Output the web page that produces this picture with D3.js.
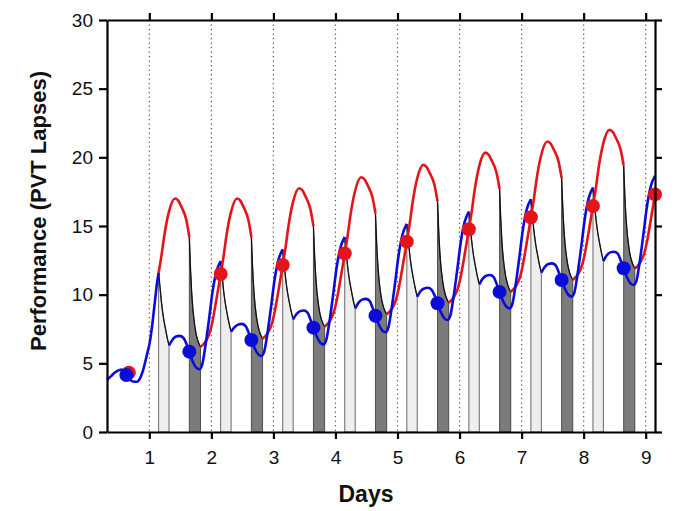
<!DOCTYPE html>
<html><head><meta charset="utf-8">
<script src="https://cdn.jsdelivr.net/npm/d3@7"></script>
<style>body{margin:0;background:#fff} svg{display:block}</style>
</head><body>
<svg id="chart" width="674" height="511"></svg>
<script>
// ---- data ----
const dayTicks = [1,2,3,4,5,6,7,8,9];
const yTicks = [0,5,10,15,20,25,30];

// blue model curve (awake segments)
const blueSegments = [
 [[0.318,3.8],[0.38,4.05],[0.45,4.35],[0.52,4.52],[0.56,4.55],[0.60,4.4],[0.63,4.15],[0.68,3.85],[0.74,3.68],[0.80,3.66],[0.85,3.9],[0.90,4.5],[0.96,5.6],[1.01,6.6],[1.05,7.9],[1.09,9.5],[1.12,10.7],[1.15,11.6]],
 [[1.318,6.3],[1.37,6.7],[1.43,6.95],[1.49,7.0],[1.55,6.85],[1.60,6.4],[1.645,5.85],[1.70,5.12],[1.76,4.67],[1.806,4.57],[1.85,4.87],[1.90,6.15],[1.96,8.12],[2.02,10.24],[2.08,11.66],[2.15,12.45]],
 [[2.318,7.3],[2.37,7.62],[2.43,7.82],[2.49,7.87],[2.55,7.72],[2.60,7.25],[2.645,6.7],[2.70,6.08],[2.76,5.63],[2.806,5.53],[2.85,5.83],[2.90,7.08],[2.96,9.03],[3.02,11.12],[3.08,12.52],[3.15,13.3]],
 [[3.318,8.2],[3.37,8.57],[3.43,8.8],[3.49,8.85],[3.55,8.7],[3.60,8.15],[3.645,7.6],[3.70,6.93],[3.76,6.48],[3.806,6.38],[3.85,6.68],[3.90,7.94],[3.96,9.9],[4.02,12.01],[4.08,13.42],[4.15,14.2]],
 [[4.318,9.0],[4.37,9.4],[4.43,9.64],[4.49,9.69],[4.55,9.54],[4.60,9.02],[4.645,8.47],[4.70,7.81],[4.76,7.36],[4.806,7.26],[4.85,7.56],[4.90,8.84],[4.96,10.81],[5.02,12.94],[5.08,14.36],[5.15,15.15]],
 [[5.318,9.85],[5.37,10.25],[5.43,10.45],[5.49,10.5],[5.55,10.35],[5.60,9.92],[5.645,9.37],[5.70,8.71],[5.76,8.26],[5.806,8.16],[5.85,8.46],[5.90,9.74],[5.96,11.71],[6.02,13.84],[6.08,15.26],[6.15,16.05]],
 [[6.318,10.75],[6.37,11.15],[6.43,11.38],[6.49,11.43],[6.55,11.28],[6.60,10.75],[6.645,10.2],[6.70,9.55],[6.76,9.1],[6.806,9.0],[6.85,9.3],[6.90,10.59],[6.96,12.58],[7.02,14.72],[7.08,16.16],[7.15,16.95]],
 [[7.318,11.6],[7.37,12.0],[7.43,12.23],[7.49,12.28],[7.55,12.13],[7.60,11.62],[7.645,11.07],[7.70,10.41],[7.76,9.96],[7.806,9.86],[7.85,10.16],[7.90,11.45],[7.96,13.43],[8.02,15.58],[8.08,17.01],[8.15,17.8]],
 [[8.318,12.45],[8.37,12.85],[8.43,13.08],[8.49,13.13],[8.55,12.98],[8.60,12.47],[8.645,11.92],[8.70,11.25],[8.76,10.8],[8.806,10.7],[8.85,11.0],[8.90,12.29],[8.96,14.28],[9.02,16.42],[9.08,17.86],[9.15,18.65]]
];

// red model curve (awake segments)
const redSegments = [
 [[1.15,11.6],[1.194,12.79],[1.247,14.46],[1.316,16.03],[1.415,17.0],[1.47,16.83],[1.516,16.41],[1.597,15.43],[1.645,14.2]],
 [[1.825,6.2],[1.875,6.41],[1.925,6.73],[1.975,7.26],[2.025,8.21],[2.075,9.49],[2.115,10.55],[2.15,11.5],[2.194,12.71],[2.247,14.42],[2.316,16.01],[2.415,17.0],[2.47,16.83],[2.516,16.41],[2.597,15.43],[2.645,14.2]],
 [[2.825,6.8],[2.875,7.01],[2.925,7.34],[2.975,7.87],[3.025,8.84],[3.075,10.12],[3.115,11.2],[3.15,12.16],[3.194,13.39],[3.247,15.12],[3.316,16.74],[3.415,17.75],[3.47,17.59],[3.516,17.17],[3.597,16.21],[3.645,15.0]],
 [[3.825,7.67],[3.875,7.88],[3.925,8.2],[3.975,8.74],[4.025,9.7],[4.075,10.97],[4.115,12.04],[4.15,13.0],[4.194,14.22],[4.247,15.94],[4.316,17.55],[4.415,18.55],[4.47,18.39],[4.516,17.99],[4.597,17.07],[4.645,15.9]],
 [[4.825,8.57],[4.875,8.78],[4.925,9.1],[4.975,9.63],[5.025,10.58],[5.075,11.85],[5.115,12.91],[5.15,13.86],[5.194,15.09],[5.247,16.82],[5.316,18.44],[5.415,19.45],[5.47,19.29],[5.516,18.89],[5.597,17.97],[5.645,16.8]],
 [[5.825,9.42],[5.875,9.63],[5.925,9.95],[5.975,10.49],[6.025,11.45],[6.075,12.73],[6.115,13.8],[6.15,14.76],[6.194,15.99],[6.247,17.72],[6.316,19.34],[6.415,20.34],[6.47,20.18],[6.516,19.79],[6.597,18.86],[6.645,17.7]],
 [[6.825,10.2],[6.875,10.42],[6.925,10.74],[6.975,11.29],[7.025,12.27],[7.075,13.57],[7.115,14.66],[7.15,15.64],[7.194,16.85],[7.247,18.56],[7.316,20.17],[7.415,21.15],[7.47,20.99],[7.516,20.59],[7.597,19.67],[7.645,18.5]],
 [[7.825,11.07],[7.875,11.29],[7.925,11.61],[7.975,12.15],[8.025,13.12],[8.075,14.41],[8.115,15.49],[8.15,16.46],[8.194,17.68],[8.247,19.4],[8.316,21.0],[8.415,22.0],[8.47,21.84],[8.516,21.45],[8.597,20.54],[8.645,19.4]],
 [[8.825,11.9],[8.875,12.12],[8.925,12.44],[8.975,12.98],[9.025,13.95],[9.075,15.25],[9.115,16.33],[9.15,17.3]]
];

// short (light grey) sleep periods: black decay line
const lightSleeps = [
 [[1.15,11.6],[1.175,10.43],[1.195,9.48],[1.225,8.42],[1.26,7.52],[1.29,6.83],[1.318,6.3]],
 [[2.15,12.45],[2.175,11.32],[2.195,10.39],[2.225,9.36],[2.26,8.48],[2.29,7.82],[2.318,7.3]],
 [[3.15,13.3],[3.175,12.18],[3.195,11.26],[3.225,10.24],[3.26,9.37],[3.29,8.71],[3.318,8.2]],
 [[4.15,14.2],[4.175,13.06],[4.195,12.12],[4.225,11.08],[4.26,10.2],[4.29,9.52],[4.318,9.0]],
 [[5.15,15.15],[5.175,13.98],[5.195,13.03],[5.225,11.97],[5.26,11.07],[5.29,10.38],[5.318,9.85]],
 [[6.15,16.05],[6.175,14.88],[6.195,13.93],[6.225,12.87],[6.26,11.97],[6.29,11.28],[6.318,10.75]],
 [[7.15,16.95],[7.175,15.77],[7.195,14.81],[7.225,13.74],[7.26,12.83],[7.29,12.14],[7.318,11.6]],
 [[8.15,17.8],[8.175,16.62],[8.195,15.66],[8.225,14.59],[8.26,13.68],[8.29,12.99],[8.318,12.45]]
];

// long (dark grey) sleep periods: black decay line
const darkSleeps = [
 [[1.645,14.2],[1.663,11.96],[1.683,10.12],[1.735,7.64],[1.775,6.76],[1.825,6.2]],
 [[2.645,14.2],[2.663,12.13],[2.683,10.43],[2.735,8.13],[2.775,7.32],[2.825,6.8]],
 [[3.645,15.0],[3.663,12.95],[3.683,11.26],[3.735,8.99],[3.775,8.18],[3.825,7.67]],
 [[4.645,15.9],[4.663,13.85],[4.683,12.16],[4.735,9.89],[4.775,9.08],[4.825,8.57]],
 [[5.645,16.8],[5.663,14.73],[5.683,13.04],[5.735,10.75],[5.775,9.94],[5.825,9.42]],
 [[6.645,17.7],[6.663,15.6],[6.683,13.88],[6.735,11.55],[6.775,10.73],[6.825,10.2]],
 [[7.645,18.5],[7.663,16.42],[7.683,14.71],[7.735,12.41],[7.775,11.59],[7.825,11.07]],
 [[8.645,19.4],[8.663,17.3],[8.683,15.58],[8.735,13.25],[8.775,12.43],[8.825,11.9]]
];

const redDots = [[0.67,4.32],[2.15,11.5],[3.15,12.16],[4.15,13.0],[5.15,13.86],[6.15,14.76],[7.15,15.64],[8.15,16.46],[9.15,17.3]];
const blueDots = [[0.63,4.15],[1.645,5.85],[2.645,6.7],[3.645,7.6],[4.645,8.47],[5.645,9.37],[6.645,10.2],[7.645,11.07],[8.645,11.92]];

// ---- drawing ----
const svg = d3.select("#chart");
const x = d3.scaleLinear().domain([0.318, 9.15]).range([107, 655]);
const y = d3.scaleLinear().domain([0, 30]).range([432, 20]);
const FONT = "'Liberation Sans', Arial, sans-serif";
const RED = "#e4141b", BLUE = "#0c0cd8";

const line = d3.line().x(d => x(d[0])).y(d => y(d[1])).curve(d3.curveMonotoneX);
const area = d3.area().x(d => x(d[0])).y0(y(0)).y1(d => y(d[1])).curve(d3.curveMonotoneX);

// dotted day grid
svg.append("g").selectAll("line").data(dayTicks).join("line")
  .attr("x1", d => x(d)).attr("x2", d => x(d))
  .attr("y1", y(30)).attr("y2", y(0))
  .attr("stroke", "#555").attr("stroke-width", 1.2)
  .attr("stroke-dasharray", "1.2,3.3");

// sleep areas
svg.append("g").selectAll("path").data(lightSleeps).join("path")
  .attr("d", area).attr("fill", "#eeeeee").attr("stroke", "#444").attr("stroke-width", 0.8);
svg.append("g").selectAll("path").data(darkSleeps).join("path")
  .attr("d", area).attr("fill", "#7b7b7b").attr("stroke", "#333").attr("stroke-width", 0.8);

// black decay lines
svg.append("g").selectAll("path").data(lightSleeps.concat(darkSleeps)).join("path")
  .attr("d", line).attr("fill", "none").attr("stroke", "#111").attr("stroke-width", 1.3);

// red and blue curves
svg.append("g").selectAll("path").data(redSegments).join("path")
  .attr("d", line).attr("fill", "none").attr("stroke", RED).attr("stroke-width", 2.6);
svg.append("g").selectAll("path").data(blueSegments).join("path")
  .attr("d", line).attr("fill", "none").attr("stroke", BLUE).attr("stroke-width", 2.6);

// dots
svg.append("g").selectAll("circle").data(redDots).join("circle")
  .attr("cx", d => x(d[0])).attr("cy", d => y(d[1])).attr("r", 7).attr("fill", RED);
svg.append("g").selectAll("circle").data(blueDots).join("circle")
  .attr("cx", d => x(d[0])).attr("cy", d => y(d[1])).attr("r", 7).attr("fill", BLUE);

// axes
function styleAxis(g) {
  g.select(".domain").attr("stroke", "#000").attr("stroke-width", 2.2);
  g.selectAll(".tick line").attr("stroke", "#000").attr("stroke-width", 2.2);
  g.selectAll(".tick text").attr("font-family", FONT).attr("font-size", 19).attr("fill", "#111");
}
svg.append("g").attr("transform", "translate(0,432)")
  .call(d3.axisBottom(x).tickValues(dayTicks).tickSize(7).tickSizeOuter(0).tickPadding(12).tickFormat(d3.format("d")))
  .call(styleAxis);
svg.append("g").attr("transform", "translate(0,20)")
  .call(d3.axisTop(x).tickValues(dayTicks).tickSize(7).tickSizeOuter(0).tickFormat(""))
  .call(styleAxis);
svg.append("g").attr("transform", "translate(107,0)")
  .call(d3.axisLeft(y).tickValues(yTicks).tickSize(8).tickSizeOuter(0).tickPadding(6).tickFormat(d3.format("d")))
  .call(styleAxis);
svg.append("g").attr("transform", "translate(655,0)")
  .call(d3.axisRight(y).tickValues(yTicks).tickSize(7).tickSizeOuter(0).tickFormat(""))
  .call(styleAxis);

// axis titles
svg.append("text").attr("x", 366).attr("y", 502).attr("text-anchor", "middle")
  .attr("font-family", FONT).attr("font-weight", "bold").attr("font-size", 23).attr("fill", "#111")
  .text("Days");
svg.append("text").attr("transform", "translate(46,211) rotate(-90)").attr("text-anchor", "middle")
  .attr("font-family", FONT).attr("font-weight", "bold").attr("font-size", 22).attr("fill", "#111")
  .text("Performance (PVT Lapses)");
</script>
</body></html>
